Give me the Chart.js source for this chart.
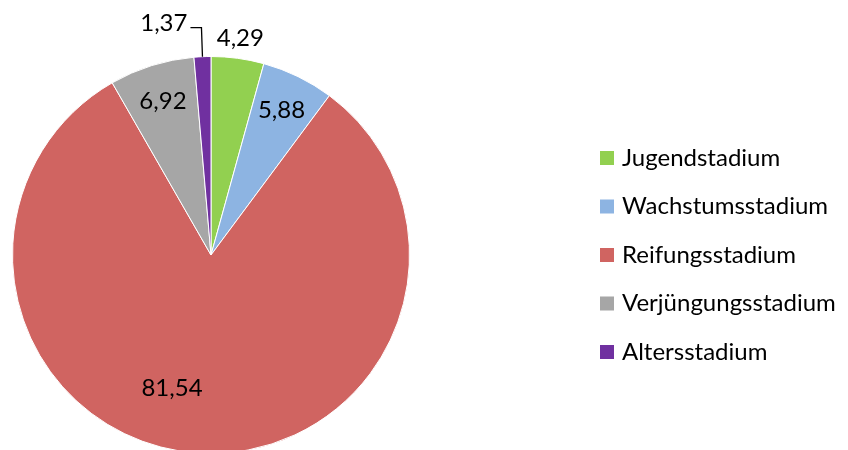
<!DOCTYPE html>
<html>
<head>
<meta charset="utf-8">
<script src="https://cdn.jsdelivr.net/npm/chart.js@4"></script>
<style>
    html, body { margin: 0; padding: 0; background: #fff; overflow: hidden; }
    #wrap { width: 848px; height: 460px; }
</style>
</head>
<body>
<div id="wrap"><canvas id="grafico-torta"></canvas></div>
<script>
const etiquetas = ['Jugendstadium', 'Wachstumsstadium', 'Reifungsstadium', 'Verjüngungsstadium', 'Altersstadium'];
const valores = [4.29, 5.88, 81.54, 6.92, 1.37];
const colores = ['#92D050', '#8DB4E2', '#D06461', '#A6A6A6', '#7030A0'];
const FUENTE = 'Lato, "Open Sans", sans-serif';

// posicion de cada etiqueta: [fraccion del angulo del sector, fraccion del radio]
const posEtiquetas = [[0.5, 1.10], [0.5, 0.81], [0.544, 0.70], [0.5, 0.81], [0.5, 1.0]];

const etiquetasDatos = {
    id: 'etiquetasDatos',
    afterDatasetsDraw(chart) {
        const ctx = chart.ctx;
        const arcos = chart.getDatasetMeta(0).data;
        ctx.save();
        ctx.font = '24px ' + FUENTE;
        ctx.fillStyle = '#000';
        ctx.textBaseline = 'middle';
        arcos.forEach(function (arc, i) {
            const p = posEtiquetas[i];
            const ang = arc.startAngle + (arc.endAngle - arc.startAngle) * p[0];
            const texto = valores[i].toFixed(2).replace('.', ',');
            if (i === 4) {
                // con linea guia
                const x0 = arc.x + arc.outerRadius * Math.cos(ang);
                const y0 = arc.y + arc.outerRadius * Math.sin(ang);
                const y1 = arc.y - arc.outerRadius * 1.145;
                ctx.strokeStyle = '#000';
                ctx.lineWidth = 1.3;
                ctx.beginPath();
                ctx.moveTo(x0, y0);
                ctx.lineTo(x0 - 1, y1);
                ctx.lineTo(x0 - 12, y1);
                ctx.stroke();
                ctx.textAlign = 'right';
                ctx.fillText(texto, x0 - 15, y1 - 4);
                return;
            }
            ctx.textAlign = 'center';
            const r = arc.outerRadius * p[1];
            ctx.fillText(texto, arc.x + r * Math.cos(ang), arc.y + r * Math.sin(ang));
        });
        ctx.restore();
    }
};

const leyenda = {
    id: 'leyenda',
    afterDraw(chart) {
        const ctx = chart.ctx;
        ctx.save();
        ctx.font = '24px ' + FUENTE;
        ctx.textBaseline = 'middle';
        ctx.textAlign = 'left';
        etiquetas.forEach(function (et, i) {
            const y = 158 + i * 48.5;
            ctx.fillStyle = colores[i];
            ctx.fillRect(600, y - 7, 14, 14);
            ctx.fillStyle = '#000';
            ctx.fillText(et, 622, y);
        });
        ctx.restore();
    }
};

window.onload = function () {
    const ctxTorta = document.getElementById('grafico-torta');
    new Chart(ctxTorta.getContext('2d'), {
        type: 'pie',
        data: {
            labels: etiquetas,
            datasets: [{
                data: valores,
                backgroundColor: colores,
                borderColor: '#ffffff',
                borderWidth: 1
            }]
        },
        options: {
            responsive: true,
            maintainAspectRatio: false,
            animation: false,
            layout: {
                padding: { left: 12, top: 56, right: 438, bottom: 6 }
            },
            plugins: {
                legend: { display: false },
                tooltip: { enabled: false },
                title: { display: false }
            }
        },
        plugins: [etiquetasDatos, leyenda]
    });
};
</script>
</body>
</html>
